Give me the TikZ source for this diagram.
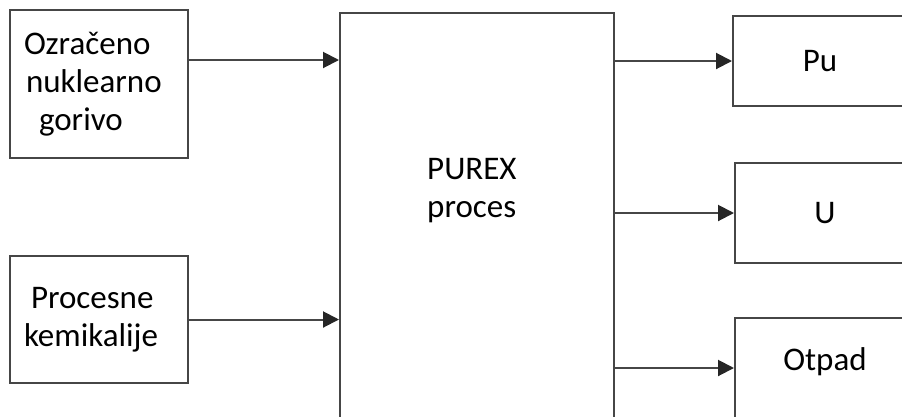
\documentclass[tikz,border=0pt]{standalone}
\usepackage{fontspec}
\setmainfont{Carlito}
\usetikzlibrary{arrows.meta}
\definecolor{edge}{RGB}{70,70,70}
\tikzstyle{block}=[rectangle, draw=edge, line width=2pt, inner sep=0pt]
\tikzstyle{flow}=[draw=edge, line width=2pt, -{Triangle[length=16pt, width=16pt, color=black!85]}]

\begin{document}
\begin{tikzpicture}[x=1pt, y=-1pt, font=\fontsize{33}{38}\selectfont]
    \useasboundingbox (0,0) rectangle (902,416);
    \clip (0,0) rectangle (902,416);
    % inputs
    \node[block, minimum width=178pt, minimum height=148pt, text width=150pt, align=left] (fuel) at (99,84)
        {Ozračeno\\\hspace*{2pt}nuklearno\\\hspace*{15pt}gorivo};
    \node[block, minimum width=178pt, minimum height=127pt, text width=150pt, align=left] (chem) at (99,319.5)
        {\hspace*{7pt}Procesne\\kemikalije};
    % process
    \node[block, minimum width=274pt, minimum height=420pt] (purex) at (477,223) {};
    \node[align=left, anchor=north west, inner sep=0pt] (purexlbl) at (427,158) {PUREX\\proces};
    % outputs
    \node[block, minimum width=174pt, minimum height=90pt] (pu) at (820,61) {Pu};
    \node[block, minimum width=180pt, minimum height=100pt] (u) at (825,213) {U};
    \node[block, minimum width=180pt, minimum height=100pt, text depth=17pt] (otpad) at (825,368) {Otpad};
    \coordinate (fuelout) at ([yshift=24pt]fuel.east);
    \draw[flow] (fuelout) -- (fuelout -| purex.west);
    \draw[flow] (chem.east) -- (chem.east -| purex.west);
    \draw[flow] (pu.west -| purex.east) -- (pu.west);
    \draw[flow] (u.west -| purex.east) -- (u.west);
    \draw[flow] (otpad.west -| purex.east) -- (otpad.west);
\end{tikzpicture}
\end{document}
